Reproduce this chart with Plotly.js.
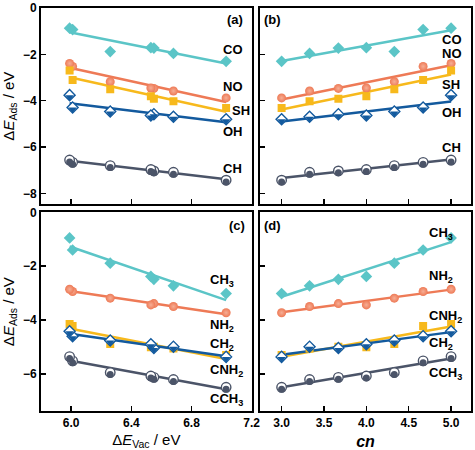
<!DOCTYPE html>
<html>
<head>
<meta charset="utf-8">
<script src="https://cdn.plot.ly/plotly-3.0.1.min.js"></script>
<style>html,body{margin:0;padding:0;background:#fff;}#chart{width:475px;height:450px;}</style>
</head>
<body>
<div id="chart"></div>
<script>
// ---- data ----
var cn      = [3.0, 3.33, 3.67, 4.0, 4.33, 4.67, 5.0];
var dEvac   = [7.03, 6.68, 6.55, 6.53, 6.26, 6.01, 5.99];

var CO   = [-2.30, -1.96, -1.73, -1.71, -1.88, -0.93, -0.87];
var NO   = [-3.88, -3.58, -3.47, -3.45, -3.18, -2.52, -2.39];
var SH   = [-4.31, -4.02, -3.92, -3.81, -3.51, -3.11, -2.70];
var OH   = [-4.80, -4.69, -4.58, -4.64, -4.47, -4.29, -3.76];
var CH   = [-7.43, -7.09, -7.03, -6.97, -6.80, -6.66, -6.56];

var CH3  = [-3.02, -2.73, -2.49, -2.38, -1.89, -1.40, -0.95];
var NH2  = [-3.73, -3.50, -3.39, -3.44, -3.19, -2.94, -2.86];
var CNH2 = [-5.30, -5.06, -4.99, -5.01, -4.89, -4.22, -4.15];
var CH2  = [-5.37, -4.99, -5.04, -4.90, -4.76, -4.60, -4.42];
var CCH3 = [-6.50, -6.21, -6.13, -6.08, -5.95, -5.52, -5.36];

var labelsTop    = ['CO', 'NO', 'SH', 'OH', 'CH'];
var labelsBottom = ['CH<sub>3</sub>', 'NH<sub>2</sub>', 'CNH<sub>2</sub>', 'CH<sub>2</sub>', 'CCH<sub>3</sub>'];
var panelTags    = ['(a)', '(b)', '(c)', '(d)'];

// ---- styles ----
var C = {
  cyan: '#5BC5C7', orange: '#EE7A56', yellow: '#F7B91C', blue: '#135A9E', gray: '#4B5468'
};
var FONT = 'Arial, "Liberation Sans", sans-serif';

function fit(xs, ys) {
  var n = xs.length, mx = 0, my = 0;
  for (var i = 0; i < n; i++) { mx += xs[i]; my += ys[i]; }
  mx /= n; my /= n;
  var sxy = 0, sxx = 0;
  for (var j = 0; j < n; j++) { sxy += (xs[j]-mx)*(ys[j]-my); sxx += (xs[j]-mx)*(xs[j]-mx); }
  var b = sxy / sxx, a = my - b*mx;
  var x0 = Math.min.apply(null, xs), x1 = Math.max.apply(null, xs);
  return {x: [x0, x1], y: [a + b*x0, a + b*x1]};
}

var lineTraces = [], markerTraces = [];
function addSeries(xs, ys, xa, ya, style) {
  var f = fit(xs, ys);
  lineTraces.push({x: f.x, y: f.y, xaxis: xa, yaxis: ya, mode: 'lines',
    line: {color: style.color, width: 2.5}, hoverinfo: 'skip'});
  var base = {x: xs, y: ys, xaxis: xa, yaxis: ya, mode: 'markers', hoverinfo: 'skip'};
  function mk(marker) { var t = {}; for (var k in base) t[k] = base[k]; t.marker = marker; return t; }
  if (style.kind === 'diamond') {
    markerTraces.push(mk({symbol: 'diamond', size: 9, color: style.color, line: {width: 0}}));
  } else if (style.kind === 'square') {
    markerTraces.push(mk({symbol: 'square', size: 8, color: style.color, line: {width: 0}}));
  } else if (style.kind === 'sphere') {
    markerTraces.push(mk({symbol: 'circle', size: 9, color: style.color, line: {width: 0},
      gradient: {type: 'radial', color: '#F6AE95'}}));
  } else if (style.kind === 'halfdiamond') {
    // white diamond with coloured outline, lower half filled
    markerTraces.push(mk({symbol: 'diamond', size: 8.5, color: '#ffffff', line: {width: 1.4, color: style.color}}));
    markerTraces.push(mk({symbol: 'triangle-down', size: 7.4, color: style.color, line: {width: 0}, standoff: 1.85}));
  } else if (style.kind === 'halfcircle') {
    markerTraces.push(mk({symbol: 'circle', size: 9.5, color: '#ffffff', line: {width: 1.4, color: style.color}}));
    markerTraces.push(mk({symbol: 'circle', size: 7, color: style.color, line: {width: 0}, standoff: 1.9}));
  }
}

// panel (a): x3/y ; (b): x4/y2 ; (c): x/y3 ; (d): x2/y4
var topSeries = [[CO, {color: C.cyan, kind: 'diamond'}], [NO, {color: C.orange, kind: 'sphere'}],
                 [SH, {color: C.yellow, kind: 'square'}], [OH, {color: C.blue, kind: 'halfdiamond'}],
                 [CH, {color: C.gray, kind: 'halfcircle'}]];
var botSeries = [[CH3, {color: C.cyan, kind: 'diamond'}], [NH2, {color: C.orange, kind: 'sphere'}],
                 [CNH2, {color: C.yellow, kind: 'square'}], [CH2, {color: C.blue, kind: 'halfdiamond'}],
                 [CCH3, {color: C.gray, kind: 'halfcircle'}]];
topSeries.forEach(function(s){ addSeries(dEvac, s[0], 'x3', 'y', s[1]); addSeries(cn, s[0], 'x4', 'y2', s[1]); });
botSeries.forEach(function(s){ addSeries(dEvac, s[0], 'x', 'y3', s[1]); addSeries(cn, s[0], 'x2', 'y4', s[1]); });

var data = lineTraces.concat(markerTraces);

// ---- layout ----
var M = {l: 41, r: 4, t: 8, b: 39};
var W = 475, H = 450, PW = W - M.l - M.r, PH = H - M.t - M.b;
function px(x) { return (x - M.l) / PW; }
function py(y) { return (H - M.b - y) / PH; }

var tickfont = {family: FONT, size: 12, color: '#000', weight: 'bold'};
function ax(extra) {
  var base = {showline: true, mirror: true, linewidth: 2, linecolor: '#000',
    ticks: 'inside', ticklen: 5, tickwidth: 1.5, tickcolor: '#000',
    showgrid: false, zeroline: false, tickfont: tickfont, fixedrange: true};
  for (var k in extra) base[k] = extra[k];
  return base;
}
var dLeft = [px(41), px(251.7)], dRight = [px(260), px(471)];
var dTop = [py(204.3), py(8)], dBot = [0, py(212.3)];
var yTitle = {text: 'Δ<i>E</i><sub>Ads</sub> / eV', font: {family: FONT, size: 15, color: '#000'}};

var ann = [];
function addAnn(text, x, y, size) {
  ann.push({text: text, xref: 'paper', yref: 'paper', x: px(x - 3), y: py(y),
    xanchor: 'left', yanchor: 'middle', showarrow: false,
    font: {family: FONT, size: size || 13, color: '#000', weight: 'bold'}});
}
addAnn(panelTags[0], 227.7, 20); addAnn(panelTags[1], 265, 20);
addAnn(panelTags[2], 230, 225); addAnn(panelTags[3], 265, 225);
// (a)
addAnn(labelsTop[0], 224, 50); addAnn(labelsTop[1], 224, 87); addAnn(labelsTop[2], 233, 111);
addAnn(labelsTop[3], 224, 131.7); addAnn(labelsTop[4], 224, 168.3);
// (b)
addAnn(labelsTop[0], 442.7, 40); addAnn(labelsTop[1], 442.7, 53.3); addAnn(labelsTop[2], 442.7, 84);
addAnn(labelsTop[3], 442.7, 112); addAnn(labelsTop[4], 442.7, 147);
// (c)
addAnn(labelsBottom[0], 210.7, 280.7); addAnn(labelsBottom[1], 210.7, 325); addAnn(labelsBottom[2], 210.7, 370.7);
addAnn(labelsBottom[3], 210.7, 344); addAnn(labelsBottom[4], 210.7, 399);
// (d)
addAnn(labelsBottom[0], 430, 233.3); addAnn(labelsBottom[1], 430, 276.7); addAnn(labelsBottom[2], 430, 316);
addAnn(labelsBottom[3], 430, 343.3); addAnn(labelsBottom[4], 430, 373.3);

var layout = {
  width: W, height: H, margin: M, showlegend: false,
  paper_bgcolor: '#fff', plot_bgcolor: '#fff',
  font: {family: FONT, color: '#000', size: 12},
  xaxis:  ax({anchor: 'y3', domain: dLeft, range: [5.8, 7.2], tick0: 6.0, dtick: 0.4, tickformat: '.1f',
    title: {text: 'Δ<i>E</i><sub>Vac</sub> / eV', font: {family: FONT, size: 15, color: '#000'}}}),
  xaxis2: ax({anchor: 'y4', domain: dRight, range: [2.745, 5.235], tick0: 3.0, dtick: 0.5, tickformat: '.1f',
    title: {text: '<b><i>cn</i></b>', font: {family: FONT, size: 16, color: '#000'}}}),
  xaxis3: ax({anchor: 'y', domain: dLeft, range: [5.8, 7.2], tick0: 6.0, dtick: 0.4, showticklabels: false}),
  xaxis4: ax({anchor: 'y2', domain: dRight, range: [2.745, 5.235], tick0: 3.0, dtick: 0.5, showticklabels: false}),
  yaxis:  ax({anchor: 'x3', domain: dTop, range: [-8.47, 0], tick0: 0, dtick: 2, title: yTitle}),
  yaxis2: ax({anchor: 'x4', domain: dTop, range: [-8.47, 0], tick0: 0, dtick: 2, showticklabels: false}),
  yaxis3: ax({anchor: 'x', domain: dBot, range: [-7.38, 0], tick0: 0, dtick: 2, title: yTitle}),
  yaxis4: ax({anchor: 'x2', domain: dBot, range: [-7.38, 0], tick0: 0, dtick: 2, showticklabels: false}),
  annotations: ann
};

Plotly.newPlot('chart', data, layout, {displayModeBar: false, staticPlot: true});
</script>
</body>
</html>
